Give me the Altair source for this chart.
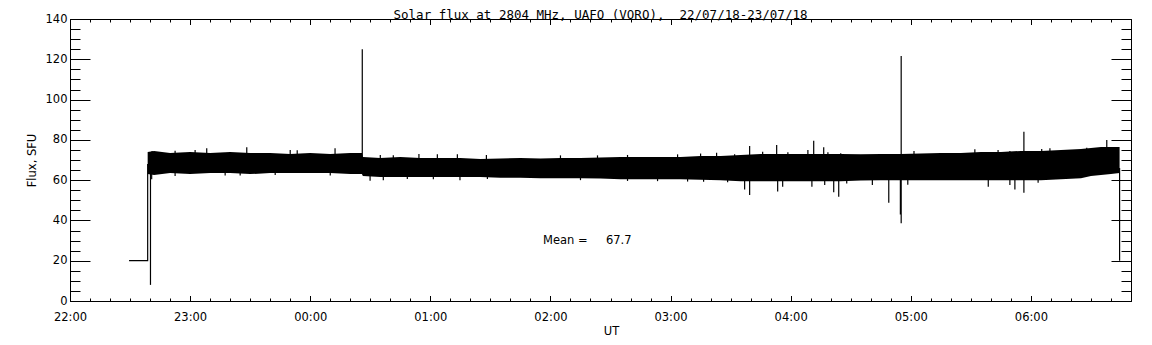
import altair as alt
import pandas as pd

# ---- data (time in minutes after 22:00 UT, 22/07/18) ----
band_t = [38.8, 42, 50, 60, 70, 80, 90, 100, 110, 120, 130, 140, 145.8,
          146.3, 155, 165, 175, 185, 195, 205, 215, 225, 235, 245, 255,
          265, 275, 285, 295, 305, 315, 325, 335, 345, 355, 365, 375, 385,
          395, 405, 415, 425, 435, 445, 455, 465, 475, 485, 495, 505, 510,
          515, 520, 524.3]
band_hi = [74.0, 74.5, 73.5, 74.0, 73.5, 74.0, 73.5, 73.5, 73.0, 73.5, 73.0, 73.5, 73.5,
           71.5, 71.0, 71.5, 71.0, 71.0, 71.0, 70.5, 70.8, 71.0, 70.8, 71.0, 71.0,
           71.2, 71.5, 71.5, 71.5, 71.5, 72.0, 72.0, 72.5, 73.0, 73.0, 73.0, 73.0, 73.0,
           72.8, 73.0, 73.0, 73.2, 73.5, 73.5, 74.0, 74.0, 74.5, 74.5, 75.0, 75.5, 76.0,
           76.5, 76.5, 76.5]
band_lo = [63.0, 62.5, 63.5, 63.0, 63.5, 63.5, 63.0, 63.5, 63.5, 63.5, 63.5, 63.0, 63.0,
           62.0, 61.5, 61.5, 61.5, 61.5, 61.5, 61.5, 61.2, 61.2, 61.0, 61.0, 61.0,
           60.8, 60.5, 60.5, 60.5, 60.5, 60.2, 60.0, 59.5, 59.5, 59.5, 59.5, 59.5, 59.5,
           59.8, 60.0, 60.0, 60.0, 60.0, 60.0, 60.0, 60.0, 60.0, 60.0, 60.5, 61.0, 62.0,
           62.5, 63.0, 63.5]

# isolated excursions: big spikes, then small tufts above / below the band
spike_t = [40.2, 146.0, 339.5, 353.0, 353.5, 371.5, 376.5, 381.5, 384.0, 409.0,
           414.8, 415.2, 472.0, 476.5, 517.9]
spike_lo = [8.0, 71.0, 52.6, 66.0, 54.3, 66.0, 66.0, 54.0, 51.8, 48.8,
            43.0, 38.6, 55.4, 53.8, 66.0]
spike_hi = [64.0, 125.0, 77.0, 77.4, 66.0, 79.6, 76.3, 66.0, 66.0, 66.0,
            66.0, 121.6, 66.0, 84.0, 79.9]

tuft_up_t = [41, 52.5, 62.5, 68.3, 88.3, 110, 113.5, 132.4, 155, 161.5, 174.3,
             183.5, 193.5, 208.0, 245, 263.5, 278.5, 303.5, 315, 323.0, 332.0,
             346.0, 358.6, 368.6, 378.6, 385.0, 421.6, 452.0, 463.6, 469.5,
             485.4, 489.5, 507.9]
tuft_up_v = [74.5, 74.6, 75.0, 75.8, 76.3, 75.0, 74.8, 75.8, 72.5, 72.3, 73.0,
             72.8, 72.8, 72.5, 72.3, 72.3, 72.5, 72.8, 73.2, 73.6, 72.8,
             74.1, 73.8, 75.0, 73.8, 73.3, 74.5, 75.3, 75.0, 74.5,
             75.5, 75.8, 76.1]
tuft_dn_t = [40.8, 52.5, 77.5, 85, 102.5, 130, 149.9, 156.5, 168.5, 181.5, 194.8,
             208.5, 255, 278.5, 293.5, 308.5, 316.5, 328.5, 337.0, 356.0, 370.6,
             377.0, 388.0, 400.8, 418.5, 458.7, 469.5, 483.6]
tuft_dn_v = [60.4, 62.0, 62.3, 62.3, 62.6, 62.3, 59.7, 60.0, 60.6, 60.4, 60.0,
             60.6, 60.0, 59.6, 59.5, 59.3, 59.2, 59.0, 55.4, 56.7, 56.7,
             57.6, 58.3, 57.6, 57.7, 56.7, 57.6, 58.7]

pre_t = [29.5, 38.8, 38.8]
pre_v = [20.0, 20.0, 68.0]
post_t = [524.3, 524.3]
post_v = [66.0, 20.0]

mean_value = 67.7
mean_pos_t = 236.3
mean_pos_v = 30.0

x_major = list(range(0, 531, 60))
x_minor = list(range(0, 531, 10))
y_major = list(range(0, 141, 20))
y_minor = list(range(0, 141, 5))
X_DOMAIN = [0, 530]
Y_DOMAIN = [0, 140]

TITLE = "Solar flux at 2804 MHz, UAFO (VORO),\u00a0\u00a022/07/18-23/07/18"
FONT = "DejaVu Sans"
TITLE_FONT = "DejaVu Sans Mono"

# ---- tables ----
band_df = pd.DataFrame({"t": band_t, "hi": band_hi, "lo": band_lo})
spike_df = pd.concat([
    pd.DataFrame({"t": spike_t, "lo": spike_lo, "hi": spike_hi}),
    pd.DataFrame({"t": tuft_up_t, "lo": [66.0] * len(tuft_up_t), "hi": tuft_up_v}),
    pd.DataFrame({"t": tuft_dn_t, "lo": tuft_dn_v, "hi": [66.0] * len(tuft_dn_t)}),
], ignore_index=True)
pre_df = pd.DataFrame({"t": pre_t, "v": pre_v, "i": range(len(pre_t))})
post_df = pd.DataFrame({"t": post_t, "v": post_v, "i": range(len(post_t))})
mean_df = pd.DataFrame({"t": [mean_pos_t], "v": [mean_pos_v],
                        "label": ["Mean =" + "\u00a0" * 5 + f"{mean_value:.1f}"]})
frame_df = pd.DataFrame({"t": X_DOMAIN, "v": Y_DOMAIN})

xs = alt.Scale(domain=X_DOMAIN, nice=False, zero=False)
ys = alt.Scale(domain=Y_DOMAIN, nice=False, zero=False)

band = alt.Chart(band_df).mark_area(color="black", opacity=1).encode(
    x=alt.X("t:Q", scale=xs, axis=None),
    y=alt.Y("hi:Q", scale=ys, axis=None),
    y2="lo:Q",
)
spikes = alt.Chart(spike_df).mark_rule(color="black", strokeWidth=1.2).encode(
    x=alt.X("t:Q", scale=xs, axis=None),
    y=alt.Y("lo:Q", scale=ys, axis=None),
    y2="hi:Q",
)
pre = alt.Chart(pre_df).mark_line(color="black", strokeWidth=1.2).encode(
    x=alt.X("t:Q", scale=xs, axis=None),
    y=alt.Y("v:Q", scale=ys, axis=None),
    order="i:Q",
)
post = alt.Chart(post_df).mark_line(color="black", strokeWidth=1.2).encode(
    x=alt.X("t:Q", scale=xs, axis=None),
    y=alt.Y("v:Q", scale=ys, axis=None),
    order="i:Q",
)
mean_txt = alt.Chart(mean_df).mark_text(
    align="left", baseline="middle", font=FONT, fontSize=11.5, color="black"
).encode(
    x=alt.X("t:Q", scale=xs, axis=None),
    y=alt.Y("v:Q", scale=ys, axis=None),
    text="label:N",
)

common = dict(domain=False, grid=False, tickColor="black", tickWidth=1,
              labelFont=FONT, labelFontSize=11.5, labelColor="black",
              titleFont=FONT, titleFontSize=11.5, titleColor="black",
              titleFontWeight="normal", labelFlush=False, labelOverlap=False)

label_expr = "timeFormat(datetime(2018, 6, 22, 22, datum.value), '%H:%M')"


def axis_layer(xaxis, yaxis):
    return alt.Chart(frame_df).mark_point(opacity=0).encode(
        x=alt.X("t:Q", scale=xs, axis=xaxis),
        y=alt.Y("v:Q", scale=ys, axis=yaxis),
    )


axes = [
    axis_layer(None, alt.Axis(orient="left", values=y_minor, tickSize=10, offset=-10,
                              labels=False, title=None, **common)),
    axis_layer(None, alt.Axis(orient="left", values=y_major, tickSize=20, offset=-20,
                              labelPadding=3, title="Flux, SFU", titleAngle=-90,
                              titleBaseline="middle", titleX=-58, **common)),
    axis_layer(None, alt.Axis(orient="right", values=y_minor, tickSize=10, offset=-10,
                              labels=False, title=None, **common)),
    axis_layer(None, alt.Axis(orient="right", values=y_major, tickSize=20, offset=-20,
                              labels=False, title=None, **common)),
    axis_layer(alt.Axis(orient="bottom", values=x_minor, tickSize=3, offset=-3,
                        labels=False, title=None, **common), None),
    axis_layer(alt.Axis(orient="bottom", values=x_major, tickSize=5.5, offset=-5.5,
                        labelPadding=10, labelExpr=label_expr, title="UT",
                        titleBaseline="middle", titleX=541, titleY=35.5, **common), None),
    axis_layer(alt.Axis(orient="top", values=x_minor, tickSize=3, offset=-3,
                        labels=False, title=None, **common), None),
    axis_layer(alt.Axis(orient="top", values=x_major, tickSize=5.5, offset=-5.5,
                        labels=False, title=None, **common), None),
]

chart = alt.layer(band, spikes, pre, post, mean_txt, *axes).resolve_axis(
    x="independent", y="independent"
).properties(
    width=1061,
    height=282,
    autosize=alt.AutoSizeParams(type="none"),
    padding={"left": 62, "top": 11, "right": 13, "bottom": 36},
    title=alt.TitleParams(TITLE, anchor="middle", frame="group", font=TITLE_FONT,
                          fontSize=12.5, fontWeight="normal", color="black", offset=-8),
    background="white",
).configure_view(stroke="black", strokeWidth=1)

chart.save("out.html", embed_options={"renderer": "svg", "actions": False})
